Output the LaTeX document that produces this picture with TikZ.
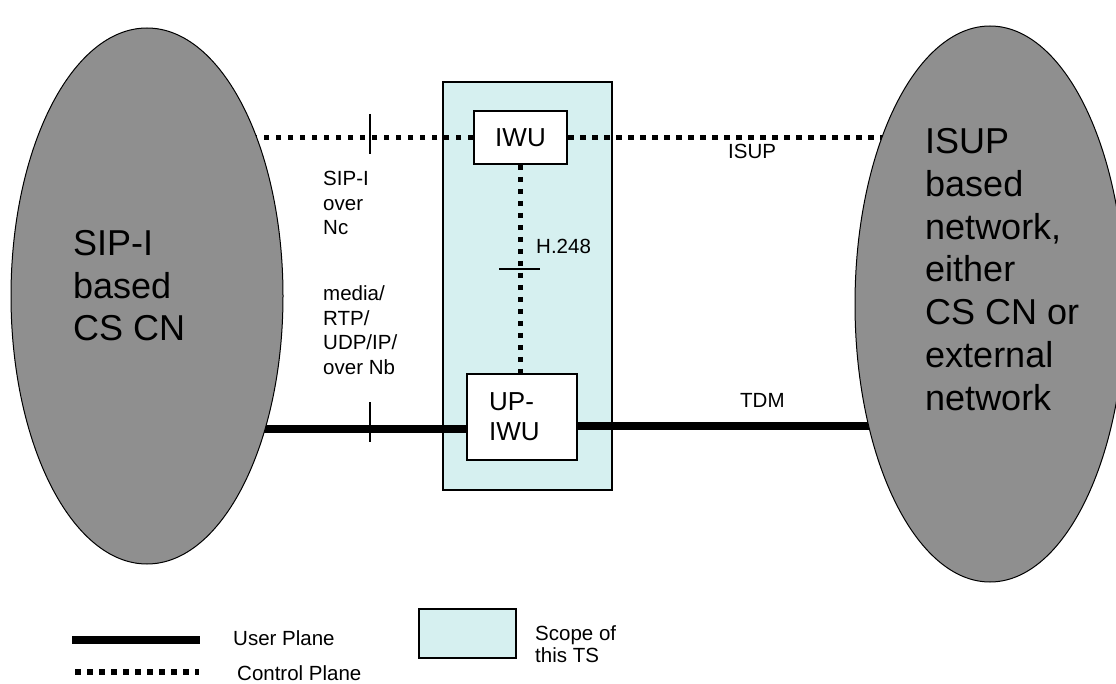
\documentclass[tikz,border=0pt]{standalone}
\usepackage{fontspec}
\setmainfont{Liberation Sans}
\usetikzlibrary{shapes.geometric}
\pgfdeclarelayer{back}
\pgfdeclarelayer{lines}
\pgfsetlayers{back,lines,main}
\definecolor{ellgray}{RGB}{143,143,143}
\definecolor{scopefill}{RGB}{214,240,240}
\tikzset{
  netell/.style={ellipse, draw=black, line width=1pt, fill=ellgray, inner sep=0pt},
  scopebox/.style={draw=black, line width=2pt, fill=scopefill, inner sep=0pt},
  unitbox/.style={draw=black, line width=2pt, fill=white, inner sep=0pt},
  userplane/.style={line width=7.5pt, line cap=butt},
  ctrlplane/.style={line width=5.5pt, dash pattern=on 5.5pt off 6.5pt},
  tickmark/.style={line width=1.5pt},
  biglabel/.style={anchor=base west, inner sep=0pt, align=left, font={\fontsize{36}{42.7}\selectfont}},
  smalllabel/.style={anchor=base west, inner sep=0pt, align=left, font={\fontsize{20.5}{24.5}\selectfont}},
  unitlabel/.style={font={\fontsize{26}{30}\selectfont}}
}
\begin{document}
\begin{tikzpicture}[x=1pt,y=-1pt]
\useasboundingbox (0,0) rectangle (1116,684);

% scope of this TS
\begin{pgfonlayer}{back}
\node[scopebox, minimum width=169pt, minimum height=408pt] (scope) at (527.5,286) {};
\end{pgfonlayer}

% networks (multi-line labels are placed by the baseline of their last line)
\node[netell, minimum width=272pt, minimum height=536pt] (L) at (147,296) {};
\node[netell, minimum width=270pt, minimum height=556pt] (R) at (990,304) {};
\node[biglabel] (Ltxt) at (73,341) {SIP-I\\based\\CS CN};
\node[biglabel] (Rtxt) at (925,410) {ISUP\\based\\network,\\either\\CS CN or\\external\\network};

% units
\node[unitbox, unitlabel, minimum width=93pt, minimum height=53pt] (IWU) at (520.5,137.5) {IWU};
\node[unitbox, minimum width=110pt, minimum height=86pt] (UPIWU) at (522,417) {};
\node[anchor=base west, inner sep=0pt, align=left, unitlabel] (UPIWUtxt) at (489,440) {UP-\\IWU};

% connectors
\coordinate (upL) at ([yshift=-12pt]UPIWU.west);
\coordinate (upR) at ([yshift=-9pt]UPIWU.east);
\begin{pgfonlayer}{lines}
\draw[ctrlplane] (IWU.west) -- (L.center |- IWU.west);
\draw[ctrlplane] (IWU.east) -- (R.center |- IWU.east);
\draw[ctrlplane] (IWU.south) -- (UPIWU.north -| IWU.south);
\draw[userplane] (upL) -- (L.center |- upL);
\draw[userplane] (upR) -- (R.center |- upR);
\end{pgfonlayer}

% reference point ticks
\draw[tickmark] (370,114) -- (370,154);
\draw[tickmark] (370,402) -- (370,442);
\draw[tickmark] (499,269) -- (540,269);

% labels
\node[smalllabel] (lblnc) at (323,235) {SIP-I\\over\\Nc};
\node[smalllabel] (lblnb) at (323,374) {media/\\RTP/\\UDP/IP/\\over Nb};
\node[smalllabel] (lblh) at (536,254) {H.248};
\node[smalllabel] (lblisup) at (728,159) {ISUP};
\node[smalllabel] (lbltdm) at (740,407) {TDM};

% legend
\coordinate (lu1) at (72,640);
\coordinate (lu2) at (200,640);
\coordinate (lc1) at (75,672);
\coordinate (lc2) at (199,672);
\draw[userplane] (lu1) -- (lu2);
\draw[ctrlplane] (lc1) -- (lc2);
\node[smalllabel] (lgu) at (233,645) {User Plane};
\node[smalllabel] (lgc) at (237,680) {Control Plane};
\node[draw=black, line width=2pt, fill=scopefill, inner sep=0pt, minimum width=97pt, minimum height=49pt] (lgbox) at (467.5,633.5) {};
\node[smalllabel, font={\fontsize{20.5}{22}\selectfont}] (lgs) at (535,662) {Scope of\\this TS};
\end{tikzpicture}
\end{document}
